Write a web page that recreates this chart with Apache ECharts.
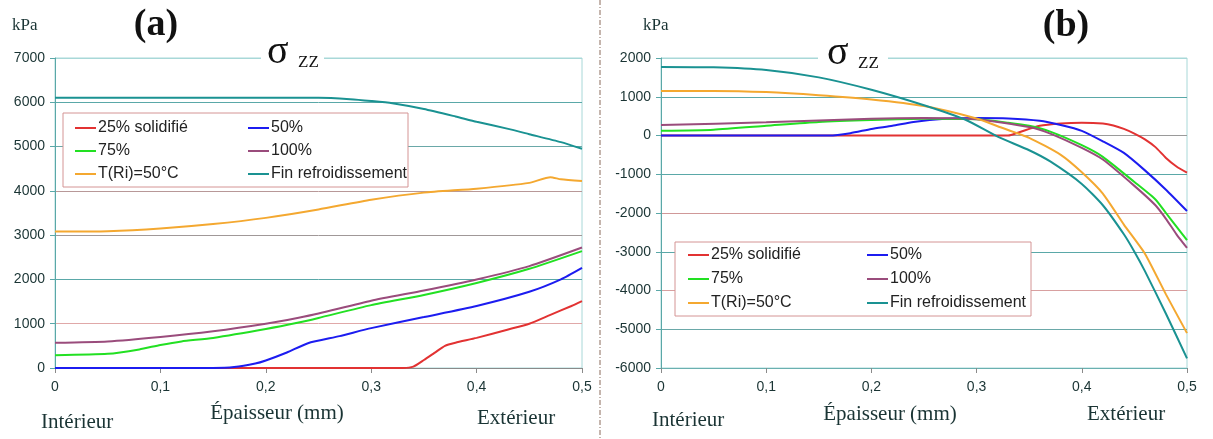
<!DOCTYPE html>
<html>
<head>
<meta charset="utf-8">
<script src="https://cdn.jsdelivr.net/npm/echarts@6/dist/echarts.min.js"></script>
<style>
  html, body { margin: 0; padding: 0; background: #fff; }
  #chart { width: 1213px; height: 439px; }
</style>
</head>
<body>
<div id="chart"></div>
<script>
// series names (shared by both panels)
var names = ['25% solidifié', '50%', '75%', '100%', 'T(Ri)=50°C', 'Fin refroidissement'];
var colors = ['#e23232', '#1c1cf0', '#22e022', '#9a4c7c', '#f4a830', '#1a9292'];
var xTicks = [0, 0.1, 0.2, 0.3, 0.4, 0.5];

// (a) panel, [epaisseur, kPa]
var a25 = [[0,0],[0.33,0],[0.34,30],[0.35,180],[0.36,340],[0.37,500],[0.38,570],[0.4,680],[0.43,870],[0.45,1000],[0.47,1200],[0.49,1400],[0.5,1510]];
var a50 = [[0,0],[0.15,0],[0.17,20],[0.19,100],[0.2,170],[0.22,350],[0.24,560],[0.27,720],[0.3,900],[0.35,1150],[0.4,1400],[0.45,1720],[0.48,2000],[0.5,2260]];
var a75 = [[0,290],[0.05,320],[0.08,420],[0.1,520],[0.12,600],[0.15,680],[0.2,880],[0.23,1020],[0.25,1130],[0.3,1420],[0.35,1650],[0.4,1920],[0.45,2240],[0.5,2640]];
var a100 = [[0,570],[0.05,600],[0.1,700],[0.15,830],[0.2,1000],[0.23,1130],[0.25,1230],[0.3,1520],[0.35,1750],[0.4,2000],[0.45,2300],[0.5,2720]];
var aTRi = [[0,3080],[0.05,3090],[0.1,3150],[0.15,3250],[0.2,3390],[0.25,3580],[0.3,3800],[0.35,3960],[0.4,4050],[0.45,4180],[0.47,4310],[0.48,4260],[0.5,4220]];
var aFin = [[0,6100],[0.25,6100],[0.28,6070],[0.3,6030],[0.32,5980],[0.35,5850],[0.38,5680],[0.4,5560],[0.43,5400],[0.45,5280],[0.48,5100],[0.5,4950]];

// (b) panel
var b25 = [[0,0],[0.33,0],[0.34,80],[0.36,250],[0.38,310],[0.4,330],[0.42,310],[0.43,260],[0.44,170],[0.45,50],[0.46,-100],[0.47,-300],[0.48,-580],[0.49,-800],[0.5,-960]];
var b50 = [[0,0],[0.16,0],[0.18,60],[0.2,170],[0.22,250],[0.24,350],[0.27,430],[0.3,450],[0.33,440],[0.36,380],[0.38,270],[0.4,120],[0.42,-150],[0.44,-450],[0.46,-900],[0.48,-1400],[0.5,-1950]];
var b75 = [[0,120],[0.05,150],[0.1,250],[0.15,350],[0.2,400],[0.25,430],[0.3,420],[0.33,330],[0.35,250],[0.37,100],[0.4,-250],[0.42,-550],[0.45,-1200],[0.47,-1650],[0.48,-2000],[0.49,-2350],[0.5,-2700]];
var b100 = [[0,270],[0.1,340],[0.2,430],[0.25,450],[0.3,420],[0.35,220],[0.37,50],[0.4,-320],[0.42,-620],[0.45,-1300],[0.47,-1800],[0.48,-2150],[0.49,-2550],[0.5,-2900]];
var bTRi = [[0,1150],[0.05,1150],[0.1,1120],[0.15,1040],[0.2,930],[0.25,760],[0.3,440],[0.32,240],[0.35,-60],[0.38,-500],[0.4,-950],[0.42,-1500],[0.44,-2300],[0.46,-3050],[0.48,-4100],[0.5,-5100]];
var bFin = [[0,1770],[0.05,1760],[0.1,1690],[0.15,1500],[0.2,1180],[0.25,780],[0.29,400],[0.32,-30],[0.35,-380],[0.37,-670],[0.4,-1250],[0.42,-1800],[0.44,-2550],[0.45,-3000],[0.46,-3500],[0.48,-4600],[0.5,-5750]];

var dataA = [a25, a50, a75, a100, aTRi, aFin];
var dataB = [b25, b50, b75, b100, bTRi, bFin];

// gridline colours, bottom to top
var gridColA = ['#9a9a9a', '#e0a8a8', '#5aa8a8', '#a09898', '#b89898', '#6aa8a8', '#5aa8a8', '#a8d8d8'];
var gridColB = ['#6ab0b0', '#6aa8a8', '#d8a0a0', '#5aa8a8', '#d09898', '#5aa8a8', '#9a9a9a', '#5aa8a8', '#a8d8d8'];

var chart = echarts.init(document.getElementById('chart'));

var sans = 'Liberation Sans';
var serif = 'Liberation Serif';
var txtCol = '#1a3434';

function xAxisOpt(idx) {
  return {
    gridIndex: idx, type: 'value', min: 0, max: 0.5, interval: 0.1,
    axisLine: { onZero: false, lineStyle: { color: idx == 0 ? '#8a8a8a' : '#6ab0b0' } },
    axisTick: { show: true, length: 5, lineStyle: { color: '#8a8a8a' } },
    splitLine: { show: false },
    axisLabel: {
      color: txtCol, fontFamily: sans, fontSize: 14, margin: 12,
      formatter: function (v) { return String(Math.round(v * 10) / 10).replace('.', ','); }
    }
  };
}

function yAxisOpt(idx, mn, mx, cols) {
  return {
    gridIndex: idx, type: 'value', min: mn, max: mx, interval: 1000,
    axisLine: { show: true, lineStyle: { color: '#5aa8a8' } },
    axisTick: { show: true, length: 5, lineStyle: { color: '#5aa8a8' } },
    splitLine: { show: true, lineStyle: { color: cols, width: 1 } },
    axisLabel: { color: txtCol, fontFamily: sans, fontSize: 14, margin: 10,
      formatter: function (v) { return String(v); } }
  };
}

var series = [];
[dataA, dataB].forEach(function (set, g) {
  set.forEach(function (d, i) {
    series.push({
      name: names[i], type: 'line', xAxisIndex: g, yAxisIndex: g,
      data: d, showSymbol: false, smooth: 0.2, z: 2,
      lineStyle: { color: colors[i], width: 2 },
      itemStyle: { color: colors[i] }
    });
  });
});

function legendOpt(left, top, data, gap) {
  return {
    left: left, top: top, orient: 'vertical', data: data, icon: 'rect',
    itemWidth: 21, itemHeight: 2, itemGap: gap, padding: 0, z: 5,
    selectedMode: false,
    textStyle: { fontFamily: sans, fontSize: 16, color: '#222', lineHeight: 16, padding: [0, 0, 0, -3] }
  };
}

function tx(x, y, text, font, align, extra) {
  var s = { x: x, y: y, text: text, font: font, fill: txtCol, align: align || 'left', verticalAlign: 'middle' };
  if (extra) for (var k in extra) s[k] = extra[k];
  return { type: 'text', z: 101, style: s };
}

var graphics = [
  // divider
  { type: 'line', z: 100, shape: { x1: 600, y1: 0, x2: 600, y2: 439 },
    style: { stroke: '#8a6a5a', lineWidth: 1, lineDash: [5, 2, 1, 2] } },
  // legend boxes
  { type: 'rect', z: 3, shape: { x: 63, y: 113, width: 345, height: 74 },
    style: { fill: '#fff', stroke: '#d49494', lineWidth: 1 } },
  { type: 'rect', z: 3, shape: { x: 675, y: 242, width: 356, height: 74 },
    style: { fill: '#fff', stroke: '#d49494', lineWidth: 1 } },
  // title gaps on top grid line
  { type: 'rect', z: 100, shape: { x: 261, y: 52, width: 63, height: 12 }, style: { fill: '#fff' } },
  { type: 'rect', z: 100, shape: { x: 818, y: 52, width: 70, height: 12 }, style: { fill: '#fff' } },
  tx(12, 26, 'kPa', '17px ' + serif),
  tx(643, 26, 'kPa', '17px ' + serif),
  tx(156, 25, '(a)', 'bold 38px ' + serif, 'center', { fill: '#111' }),
  tx(1066, 26, '(b)', 'bold 38px ' + serif, 'center', { fill: '#111' }),
  tx(267, 52, 'σ', '40px ' + serif, 'left', { fill: '#111' }),
  tx(298, 63, 'ZZ', '17px ' + serif, 'left', { fill: '#111' }),
  tx(827, 53, 'σ', '40px ' + serif, 'left', { fill: '#111' }),
  tx(858, 64, 'ZZ', '17px ' + serif, 'left', { fill: '#111' }),
  tx(41, 422, 'Intérieur', '21px ' + serif),
  tx(277, 413, 'Épaisseur (mm)', '21px ' + serif, 'center'),
  tx(477, 418, 'Extérieur', '21px ' + serif),
  tx(652, 420, 'Intérieur', '21px ' + serif),
  tx(890, 414, 'Épaisseur (mm)', '21px ' + serif, 'center'),
  tx(1087, 414, 'Extérieur', '21px ' + serif)
];

var option = {
  animation: false,
  backgroundColor: '#fff',
  grid: [
    { left: 55, right: 631, top: 58, bottom: 71, show: true, borderColor: '#a8d8d8', borderWidth: 1, backgroundColor: 'transparent' },
    { left: 661, right: 26, top: 58, bottom: 71, show: true, borderColor: '#a8d8d8', borderWidth: 1, backgroundColor: 'transparent' }
  ],
  xAxis: [xAxisOpt(0), xAxisOpt(1)],
  yAxis: [yAxisOpt(0, 0, 7000, gridColA), yAxisOpt(1, -6000, 2000, gridColB)],
  legend: [
    legendOpt(75, 120, [names[0], names[2], names[4]], 7),
    legendOpt(248, 120, [names[1], names[3], names[5]], 7),
    legendOpt(688, 247, [names[0], names[2], names[4]], 8),
    legendOpt(867, 247, [names[1], names[3], names[5]], 8)
  ],
  series: series,
  graphic: graphics
};

chart.setOption(option);
</script>
</body>
</html>
